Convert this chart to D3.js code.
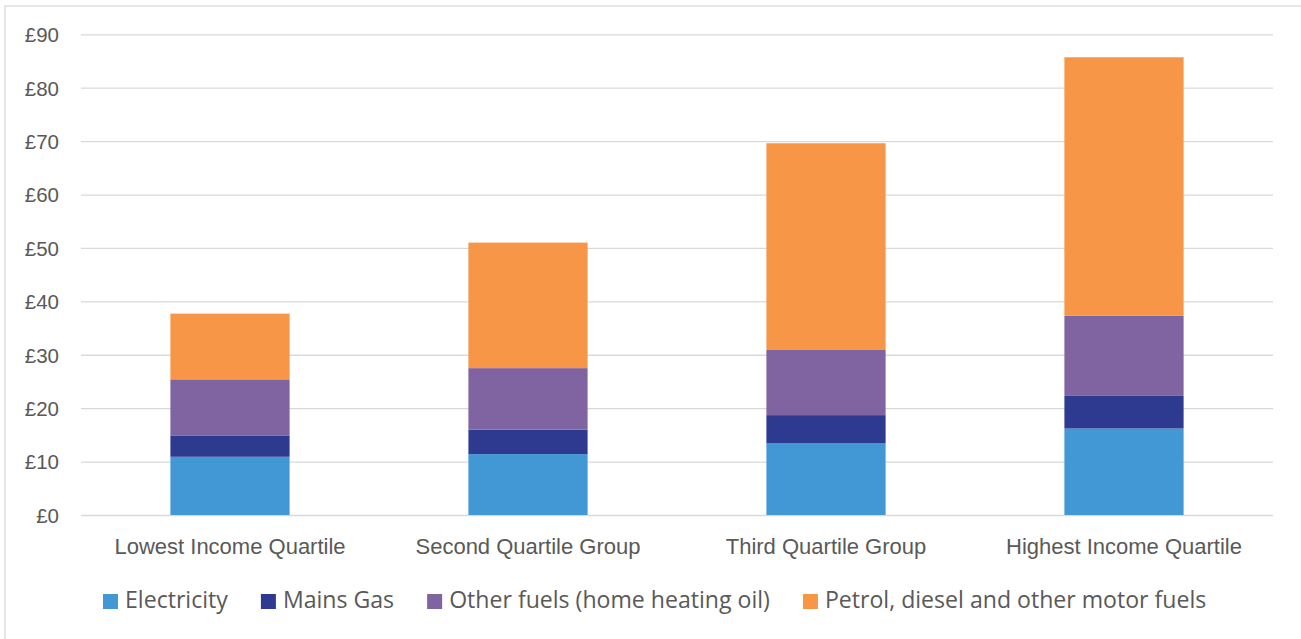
<!DOCTYPE html>
<html>
<head>
<meta charset="utf-8">
<script src="https://cdn.jsdelivr.net/npm/d3@7"></script>
<style>
  html, body { margin: 0; padding: 0; background: #fff; }
  svg { display: block; font-family: "Open Sans", "Noto Sans", sans-serif; }
</style>
</head>
<body>
<svg id="chart" width="1301" height="639"></svg>
<script>
// Weekly household spending on energy by income quartile (£)
const categories = ["Lowest Income Quartile", "Second Quartile Group", "Third Quartile Group", "Highest Income Quartile"];
const seriesNames = ["Electricity", "Mains Gas", "Other fuels (home heating oil)", "Petrol, diesel and other motor fuels"];
const electricity = [10.9, 11.4, 13.4, 16.2];
const mainsGas = [4.0, 4.6, 5.3, 6.1];
const otherFuels = [10.5, 11.5, 12.3, 15.0];
const motorFuels = [12.3, 23.5, 38.6, 48.4];
const yTicks = [0, 10, 20, 30, 40, 50, 60, 70, 80, 90];
const seriesColors = ["#4198D4", "#2E3990", "#8064A2", "#F79646"];

const seriesValues = [electricity, mainsGas, otherFuels, motorFuels];
const rows = categories.map((c, i) => {
  const r = { category: c };
  seriesNames.forEach((s, k) => { r[s] = seriesValues[k][i]; });
  return r;
});

const svg = d3.select("#chart");
const plot = { left: 81, right: 1273, top: 34.3, bottom: 515 };
const textColor = "#595959";
const gridColor = "#D9D9D9";

// Chart area frame
svg.append("rect")
  .attr("x", 5).attr("y", 6)
  .attr("width", 1400).attr("height", 700)
  .attr("fill", "none").attr("stroke", gridColor).attr("stroke-width", 1.3);

const x = d3.scaleBand()
  .domain(categories)
  .range([plot.left, plot.right])
  .paddingInner(0.6)
  .paddingOuter(0.3);

const y = d3.scaleLinear()
  .domain([0, 90])
  .range([plot.bottom, plot.top]);

const color = d3.scaleOrdinal().domain(seriesNames).range(seriesColors);

// Horizontal gridlines and value labels
const yAxis = d3.axisLeft(y)
  .tickValues(yTicks)
  .tickSize(-(plot.right - plot.left))
  .tickPadding(22)
  .tickFormat(d => "£" + d);

const gy = svg.append("g")
  .attr("transform", `translate(${plot.left},0)`)
  .call(yAxis);
gy.select(".domain").remove();
gy.selectAll(".tick line").attr("stroke", gridColor).attr("stroke-width", 1.3);
gy.selectAll(".tick text")
  .attr("fill", textColor)
  .attr("font-size", 20.5)
  .attr("dy", "0.36em");

// Stacked bars
const stacked = d3.stack().keys(seriesNames)(rows);

svg.append("g")
  .selectAll("g")
  .data(stacked)
  .join("g")
  .attr("fill", d => color(d.key))
  .selectAll("rect")
  .data(d => d)
  .join("rect")
  .attr("x", d => x(d.data.category))
  .attr("width", x.bandwidth())
  .attr("y", d => y(d[1]))
  .attr("height", d => y(d[0]) - y(d[1]));

// Category axis
const xAxis = d3.axisBottom(x).tickSize(0).tickPadding(0);
const gx = svg.append("g")
  .attr("transform", `translate(0,${plot.bottom})`)
  .call(xAxis);
gx.select(".domain").remove();
gx.selectAll(".tick text")
  .attr("fill", textColor)
  .attr("font-size", 22)
  .attr("dy", null)
  .attr("y", 38.5);

// Legend
const legend = svg.append("g").attr("transform", "translate(103,0)");
let lx = 0;
seriesNames.forEach((name, i) => {
  const item = legend.append("g").attr("transform", `translate(${lx},0)`);
  item.append("rect")
    .attr("x", 0).attr("y", 594)
    .attr("width", 15).attr("height", 15)
    .attr("fill", color(name));
  const t = item.append("text")
    .attr("x", 22).attr("y", 608.3)
    .attr("fill", textColor)
    .attr("font-size", 23.1)
    .text(name);
  lx += 22 + t.node().getComputedTextLength() + 33;
});
</script>
</body>
</html>
